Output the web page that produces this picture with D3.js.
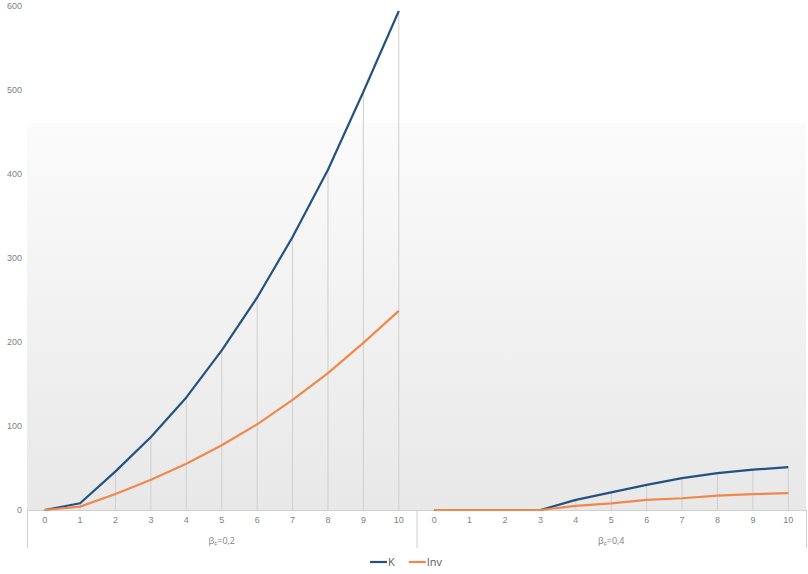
<!DOCTYPE html>
<html><head><meta charset="utf-8">
<script src="https://cdn.jsdelivr.net/npm/d3@7"></script>
<style>body{margin:0;background:#fff}svg{display:block;font-family:"Open Sans","Liberation Sans",sans-serif}</style>
</head><body><svg id="c" width="808" height="574"></svg>
<script>
const groups = ["0,2", "0,4"];
const periods = [0,1,2,3,4,5,6,7,8,9,10];
const K_02 = [0, 8, 46, 87, 134, 190, 253, 325, 405, 498, 594];
const Inv_02 = [0, 4, 19, 36, 55, 77, 102, 131, 163, 199, 237];
const K_04 = [0, 0, 0, 0, 12, 21, 30, 38, 44, 48, 51];
const Inv_04 = [0, 0, 0, 0, 5, 8, 12, 14, 17, 19, 20];
const yTicks = [0,100,200,300,400,500,600];
const seriesNames = ["K", "Inv"];
const colors = {K: "#24527f", Inv: "#f0884c"};

(function(){
const svg = d3.select("#c");
const mL = 27, mR = 806, mT = 6, mB = 510;
const cats = [];
groups.forEach((g, gi) => periods.forEach(p => cats.push(gi + "-" + p)));
const x = d3.scaleBand().domain(cats).range([mL, mR]).padding(0);
const y = d3.scaleLinear().domain([0, 600]).range([mB, mT]);

const data = {
  K: [K_02, K_04],
  Inv: [Inv_02, Inv_04]
};

// background gradient
const defs = svg.append("defs");
const grad = defs.append("linearGradient").attr("id","bg").attr("x1",0).attr("y1",0).attr("x2",0).attr("y2",1);
grad.append("stop").attr("offset","0%").attr("stop-color","#fbfbfb");
grad.append("stop").attr("offset","100%").attr("stop-color","#e8e8e8");
svg.append("rect").attr("x", mL).attr("y", 123).attr("width", mR-mL).attr("height", mB-123).attr("fill","url(#bg)");

// drop lines
groups.forEach((g, gi) => {
  periods.forEach((p, i) => {
    const v = Math.max(data.K[gi][i], data.Inv[gi][i]);
    if (v <= 0) return;
    const cx = x(gi+"-"+p) + x.bandwidth()/2;
    svg.append("line")
      .attr("x1", cx).attr("x2", cx)
      .attr("y1", y(v)).attr("y2", y(0))
      .attr("stroke", "#cfcfcf").attr("stroke-width", 1);
  });
});

// y axis labels
const yAxis = d3.axisLeft(y).tickValues(yTicks).tickSize(0).tickPadding(4);
const ya = svg.append("g").attr("transform", `translate(${mL-1},0)`).call(yAxis);
ya.select(".domain").remove();
ya.selectAll("text").attr("fill","#7f7f7f").style("font-size","9px");

// x axis line
svg.append("line").attr("x1", mL).attr("x2", mR).attr("y1", mB+0.5).attr("y2", mB+0.5).attr("stroke","#d0d0d0");

// x tick labels
const xa = svg.append("g").attr("transform", `translate(0,${mB})`)
  .call(d3.axisBottom(x).tickSize(0).tickPadding(7).tickFormat(d => d.split("-")[1]));
xa.select(".domain").remove();
xa.selectAll("text").attr("fill","#7f7f7f").style("font-size","9px");

// group separators & labels
const sepX = [mL, x("1-0"), mR];
sepX.forEach(sx => svg.append("line").attr("x1", sx+0.5).attr("x2", sx+0.5).attr("y1", mB).attr("y2", 548).attr("stroke","#d0d0d0"));
groups.forEach((g, gi) => {
  const cx = (x(gi+"-0") + x(gi+"-10") + x.bandwidth())/2;
  const t = svg.append("text").attr("x", cx).attr("y", 544).attr("text-anchor","middle")
    .attr("fill","#7f7f7f").style("font-size","9px");
  t.append("tspan").text("β");
  t.append("tspan").attr("dy", 2).style("font-size","6px").text("F");
  t.append("tspan").attr("dy", -2).text("=" + g);
});

// lines
const line = d3.line().x(d => x(d.c) + x.bandwidth()/2).y(d => y(d.v));
seriesNames.forEach(s => {
  groups.forEach((g, gi) => {
    const pts = periods.map((p, i) => ({c: gi+"-"+p, v: data[s][gi][i]}));
    svg.append("path").datum(pts).attr("d", line).attr("fill","none")
      .attr("stroke", colors[s]).attr("stroke-width", 2.2).attr("stroke-linejoin","round");
  });
});

// legend
const lg = svg.append("g").attr("transform","translate(370,562)");
let lx = 0;
seriesNames.forEach(s => {
  lg.append("line").attr("x1", lx).attr("x2", lx+17).attr("y1",0).attr("y2",0).attr("stroke", colors[s]).attr("stroke-width",2.2);
  const t = lg.append("text").attr("x", lx+18).attr("y", 4).attr("fill","#595959").style("font-size","11px").text(s);
  lx += 18 + t.node().getComputedTextLength() + 14;
});
})();
</script></body></html>
